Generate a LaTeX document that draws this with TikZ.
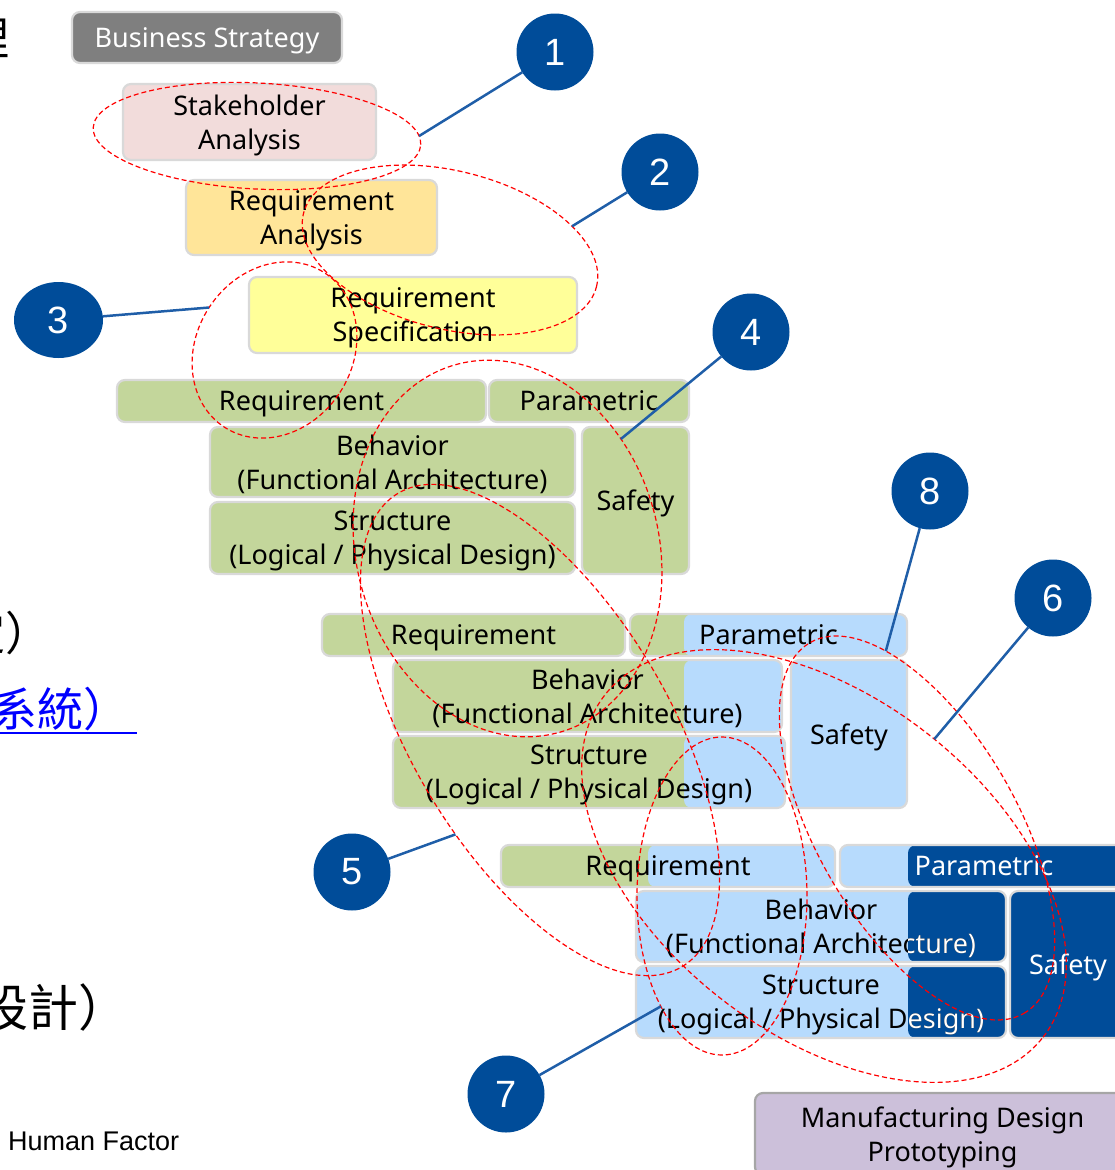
\documentclass[tikz,border=0pt]{standalone}
\usepackage{fontspec}
\setmainfont{Noto Sans}
\newfontfamily\cjkfont{Noto Sans CJK TC}
\newfontfamily\arialfont{Liberation Sans}
\usetikzlibrary{shapes.geometric}

\definecolor{boxline}{RGB}{217,217,217}
\definecolor{stratgray}{RGB}{127,127,127}
\definecolor{pinkfill}{RGB}{242,220,219}
\definecolor{orangefill}{RGB}{255,229,153}
\definecolor{yellowfill}{RGB}{255,255,153}
\definecolor{greenfill}{RGB}{195,214,155}
\definecolor{skyfill}{RGB}{183,219,253}
\definecolor{navyfill}{RGB}{0,76,153}
\definecolor{lilacfill}{RGB}{204,192,218}
\definecolor{calloutblue}{RGB}{31,94,168}
\definecolor{linkblue}{RGB}{0,0,255}

\begin{document}
\begin{tikzpicture}[x=1pt, y=-1pt,
    box/.style={draw=boxline, line width=2.2pt, rounded corners=8pt, inner sep=0pt, outer sep=0pt,
                align=center, text depth=0pt, font=\fontsize{27}{34}\selectfont},
    tone/.style 2 args={path picture={\fill[#1] (#2 |- path picture bounding box.north) rectangle (path picture bounding box.south east);}},
    zone/.style={ellipse, draw=red, line width=1.2pt, dash pattern=on 5pt off 3pt, inner sep=0pt, outer sep=0pt},
    badge/.style={circle, fill=navyfill, text=white, inner sep=0pt, outer sep=0pt, minimum size=77pt,
                  font=\arialfont\fontsize{38}{38}\selectfont},
    callout/.style={draw=calloutblue, line width=2.5pt},
    cjk/.style={anchor=base west, inner sep=0pt, font=\cjkfont\fontsize{46}{46}\selectfont}
  ]
  \useasboundingbox (0,0) rectangle (1115,1170);
  \clip (0,0) rectangle (1115,1170);

  % text cut by the left edge
  \node[cjk, anchor=base east] (cutA) at (10,55) {理};
  \node[cjk] (cutB) at (-41,650) {定）};
  \node[cjk, text=linkblue] (cutC) at (-9,726) {系統）};
  \draw[linkblue, line width=2.2pt] (0,733) -- (137,733);
  \node[cjk, font=\cjkfont\fontsize{50}{50}\selectfont] (cutD) at (-22,1026) {設計）};
  \node[anchor=base west, inner sep=0pt, font=\arialfont\fontsize{27}{32}\selectfont] (hf) at (8,1150) {Human Factor};

  \coordinate (cut2) at (684,0);
  \coordinate (cut3g) at (648,0);
  \coordinate (cut3b) at (908,0);

  \node[box, fill=stratgray, text=white, minimum width=270pt, minimum height=51pt] (strategy) at (207,37.5) {Business Strategy};
  \node[box, fill=pinkfill, minimum width=253pt, minimum height=76pt] (stake) at (249.5,122) {Stakeholder\\Analysis};
  \node[box, fill=orangefill, minimum width=251pt, minimum height=75pt] (reqana) at (311.5,217.5) {Requirement\\Analysis};
  \node[box, fill=yellowfill, minimum width=328pt, minimum height=76pt] (reqspec) at (413,315) {Requirement\\Specification};

  % first model
  \node[box, fill=greenfill, minimum width=369pt, minimum height=42pt] (reqA) at (301.5,401) {Requirement};
  \node[box, fill=greenfill, minimum width=200pt, minimum height=42pt] (parA) at (589,401) {Parametric};
  \node[box, fill=greenfill, minimum width=365pt, minimum height=70pt] (behA) at (392.5,462) {Behavior\\(Functional Architecture)};
  \node[box, fill=greenfill, minimum width=365pt, minimum height=72pt] (strA) at (392.5,538) {Structure\\(Logical / Physical Design)};
  \node[box, fill=greenfill, minimum width=107pt, minimum height=147pt] (safA) at (635.5,500.5) {Safety};

  % second model
  \node[box, fill=greenfill, minimum width=303pt, minimum height=42pt] (reqB) at (473.5,635) {Requirement};
  \node[box, fill=greenfill, tone={skyfill}{cut2}, minimum width=277pt, minimum height=42pt] (parB) at (768.5,635) {Parametric};
  \node[box, fill=greenfill, tone={skyfill}{cut2}, minimum width=389pt, minimum height=72pt] (behB) at (587.5,696) {Behavior\\(Functional Architecture)};
  \node[box, fill=greenfill, tone={skyfill}{cut2}, minimum width=392pt, minimum height=72pt] (strB) at (589,772) {Structure\\(Logical / Physical Design)};
  \node[box, fill=skyfill, minimum width=116pt, minimum height=148pt] (safB) at (849,734) {Safety};

  % third model
  \node[box, fill=greenfill, tone={skyfill}{cut3g}, minimum width=334pt, minimum height=42pt] (reqC) at (668,866) {Requirement};
  \node[box, fill=skyfill, tone={navyfill}{cut3b}, text=white, minimum width=288pt, minimum height=42pt] (parC) at (984,866) {Parametric};
  \node[box, fill=skyfill, tone={navyfill}{cut3b}, minimum width=370pt, minimum height=71pt] (behC) at (821,926.5) {Behavior\\(Functional Architecture)};
  \node[box, fill=skyfill, tone={navyfill}{cut3b}, minimum width=370pt, minimum height=72pt] (strC) at (821,1002) {Structure\\(Logical / Physical Design)};
  \node[box, fill=navyfill, text=white, minimum width=116pt, minimum height=147pt] (safC) at (1068,964.5) {Safety};
  \begin{scope}
    \clip (cut3b |- behC.north) rectangle (strC.south east);
    \node[box, draw=none, text=white, minimum width=370pt, minimum height=71pt] (behCw) at (behC) {Behavior\\(Functional Architecture)};
    \node[box, draw=none, text=white, minimum width=370pt, minimum height=72pt] (strCw) at (strC) {Structure\\(Logical / Physical Design)};
  \end{scope}

  \node[box, draw=black!35, fill=lilacfill, minimum width=375pt, minimum height=82pt] (manuf) at (942.5,1134) {Manufacturing Design\\Prototyping};

  % dashed groups
  \node[zone, minimum width=328pt, minimum height=106pt, rotate=-3] (E1) at (257,136) {};
  \node[zone, minimum width=302pt, minimum height=158pt, rotate=-14] (E2) at (450,250) {};
  \node[zone, minimum width=156pt, minimum height=184pt, rotate=-33] (E3) at (274.5,350) {};
  \node[zone, minimum width=302pt, minimum height=382pt, rotate=16] (E4) at (507.5,548.5) {};
  \node[zone, minimum width=552pt, minimum height=256pt, rotate=-59] (E5) at (540,730) {};
  \node[zone, minimum width=556pt, minimum height=336pt, rotate=-38] (E6) at (824,866) {};
  \node[zone, minimum width=170pt, minimum height=318pt] (E7) at (722,896) {};
  \node[zone, minimum width=428pt, minimum height=200pt, rotate=-60] (E8) at (917,828) {};

  % numbered callouts
  \node[badge] (n1) at (555,52) {1};
  \node[badge] (n2) at (660,172) {2};
  \node[badge, ellipse, minimum width=89pt, minimum height=76pt] (n3) at (58.5,320) {3};
  \node[badge] (n4) at (751,332) {4};
  \node[badge] (n5) at (352,872) {5};
  \node[badge] (n6) at (1053,598) {6};
  \node[badge] (n7) at (506,1094) {7};
  \node[badge] (n8) at (930,491) {8};

  \draw[callout] (n1) -- (E1.3);
  \draw[callout] (n2) -- (E2.25);
  \draw[callout] (n3) -- (E3.west);
  \draw[callout] (n4) -- (E4.28);
  \draw[callout] (n5) -- (E5.290);
  \draw[callout] (n6) -- (E6.87);
  \draw[callout] (n7) -- (E7.241);
  \draw[callout] (n8) -- (E8.160);
\end{tikzpicture}
\end{document}
